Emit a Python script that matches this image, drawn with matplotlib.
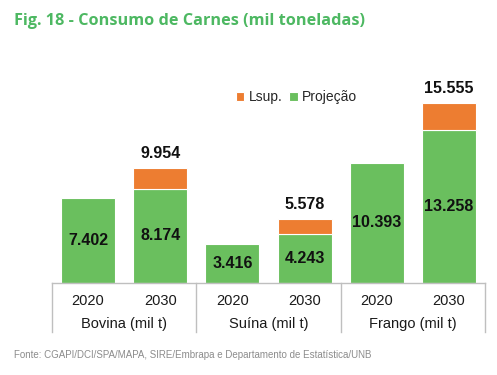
import matplotlib
matplotlib.use("Agg")
import matplotlib.pyplot as plt
from matplotlib.lines import Line2D

years = ["2020", "2030", "2020", "2030", "2020", "2030"]
groups = ["Bovina (mil t)", "Suína (mil t)", "Frango (mil t)"]
projecao = [7.402, 8.174, 3.416, 4.243, 10.393, 13.258]
lsup_total = [None, 9.954, None, 5.578, None, 15.555]

W, H = 497, 375
fig = plt.figure(figsize=(W / 100, H / 100), dpi=100)
plt.rcParams['font.family'] = ['Liberation Sans', 'DejaVu Sans']

green = "#6ABF5E"
orange = "#ED7D31"

base_y, top_y = 283, 70
ax = fig.add_axes([52 / W, (H - base_y) / H, 433 / W, (base_y - top_y) / H])
px_per_unit = 11.55
ax.set_ylim(0, (base_y - top_y) / px_per_unit)
ax.set_xlim(-0.5, 5.5)

x = list(range(len(years)))
bw = 0.75
ax.bar(x, projecao, width=bw, color=green, edgecolor="white", linewidth=0.8, label="Projeção", zorder=2)
ext_x = [i for i, v in enumerate(lsup_total) if v is not None]
ext_h = [lsup_total[i] - projecao[i] for i in ext_x]
ext_b = [projecao[i] for i in ext_x]
ax.bar(ext_x, ext_h, bottom=ext_b, width=bw, color=orange, edgecolor="white", linewidth=0.8, label="Lsup.", zorder=2)

def fmt(v):
    return f"{v:.3f}"

for i, v in enumerate(projecao):
    ax.text(i, v / 2, fmt(v), ha="center", va="center", fontsize=11.5, fontweight="bold", color="#111111")
for i in ext_x:
    ax.text(i, lsup_total[i] + 0.6, fmt(lsup_total[i]), ha="center", va="bottom", fontsize=11.5, fontweight="bold", color="#111111")

for s in ["top", "right", "left"]:
    ax.spines[s].set_visible(False)
ax.spines["bottom"].set_color("#BFBFBF")
ax.spines["bottom"].set_linewidth(1.0)
ax.set_yticks([])
ax.set_xticks(x)
ax.set_xticklabels(years, fontsize=10.5, color="#1A1A1A")
ax.tick_params(axis="x", length=0, pad=8)

axh = base_y - top_y
trans = ax.get_xaxis_transform()
for xs in [-0.5, 1.5, 3.5, 5.5]:
    ax.add_line(Line2D([xs, xs], [0, -49 / axh], transform=trans, color="#BFBFBF", lw=1.0, clip_on=False))
for g, name in enumerate(groups):
    ax.text(2 * g + 0.5, -41 / axh, name, transform=trans, ha="center", va="center", fontsize=10.5, color="#1A1A1A")

handles, labels = ax.get_legend_handles_labels()
leg = ax.legend(handles[::-1], labels[::-1], loc="upper left", bbox_to_anchor=((236 - 52) / 433, (base_y - 90) / axh),
                frameon=False, fontsize=10, handlelength=0.6, handleheight=0.6, handletextpad=0.3, columnspacing=0.5,
                ncol=2, borderaxespad=0, borderpad=0)
for t in leg.get_texts():
    t.set_color("#262626")

fig.text(14 / W, 1 - 21 / H, "Fig. 18 - Consumo de Carnes (mil toneladas)", ha="left", va="center",
         fontsize=11.7, fontweight="bold", color="#4DB862", family=["Open Sans", "DejaVu Sans"])
fig.text(14 / W, 1 - 355 / H, "Fonte: CGAPI/DCI/SPA/MAPA, SIRE/Embrapa e Departamento de Estatística/UNB",
         ha="left", va="center", fontsize=7, color="#8C8C8C")

fig.savefig("out.png", dpi=100)
